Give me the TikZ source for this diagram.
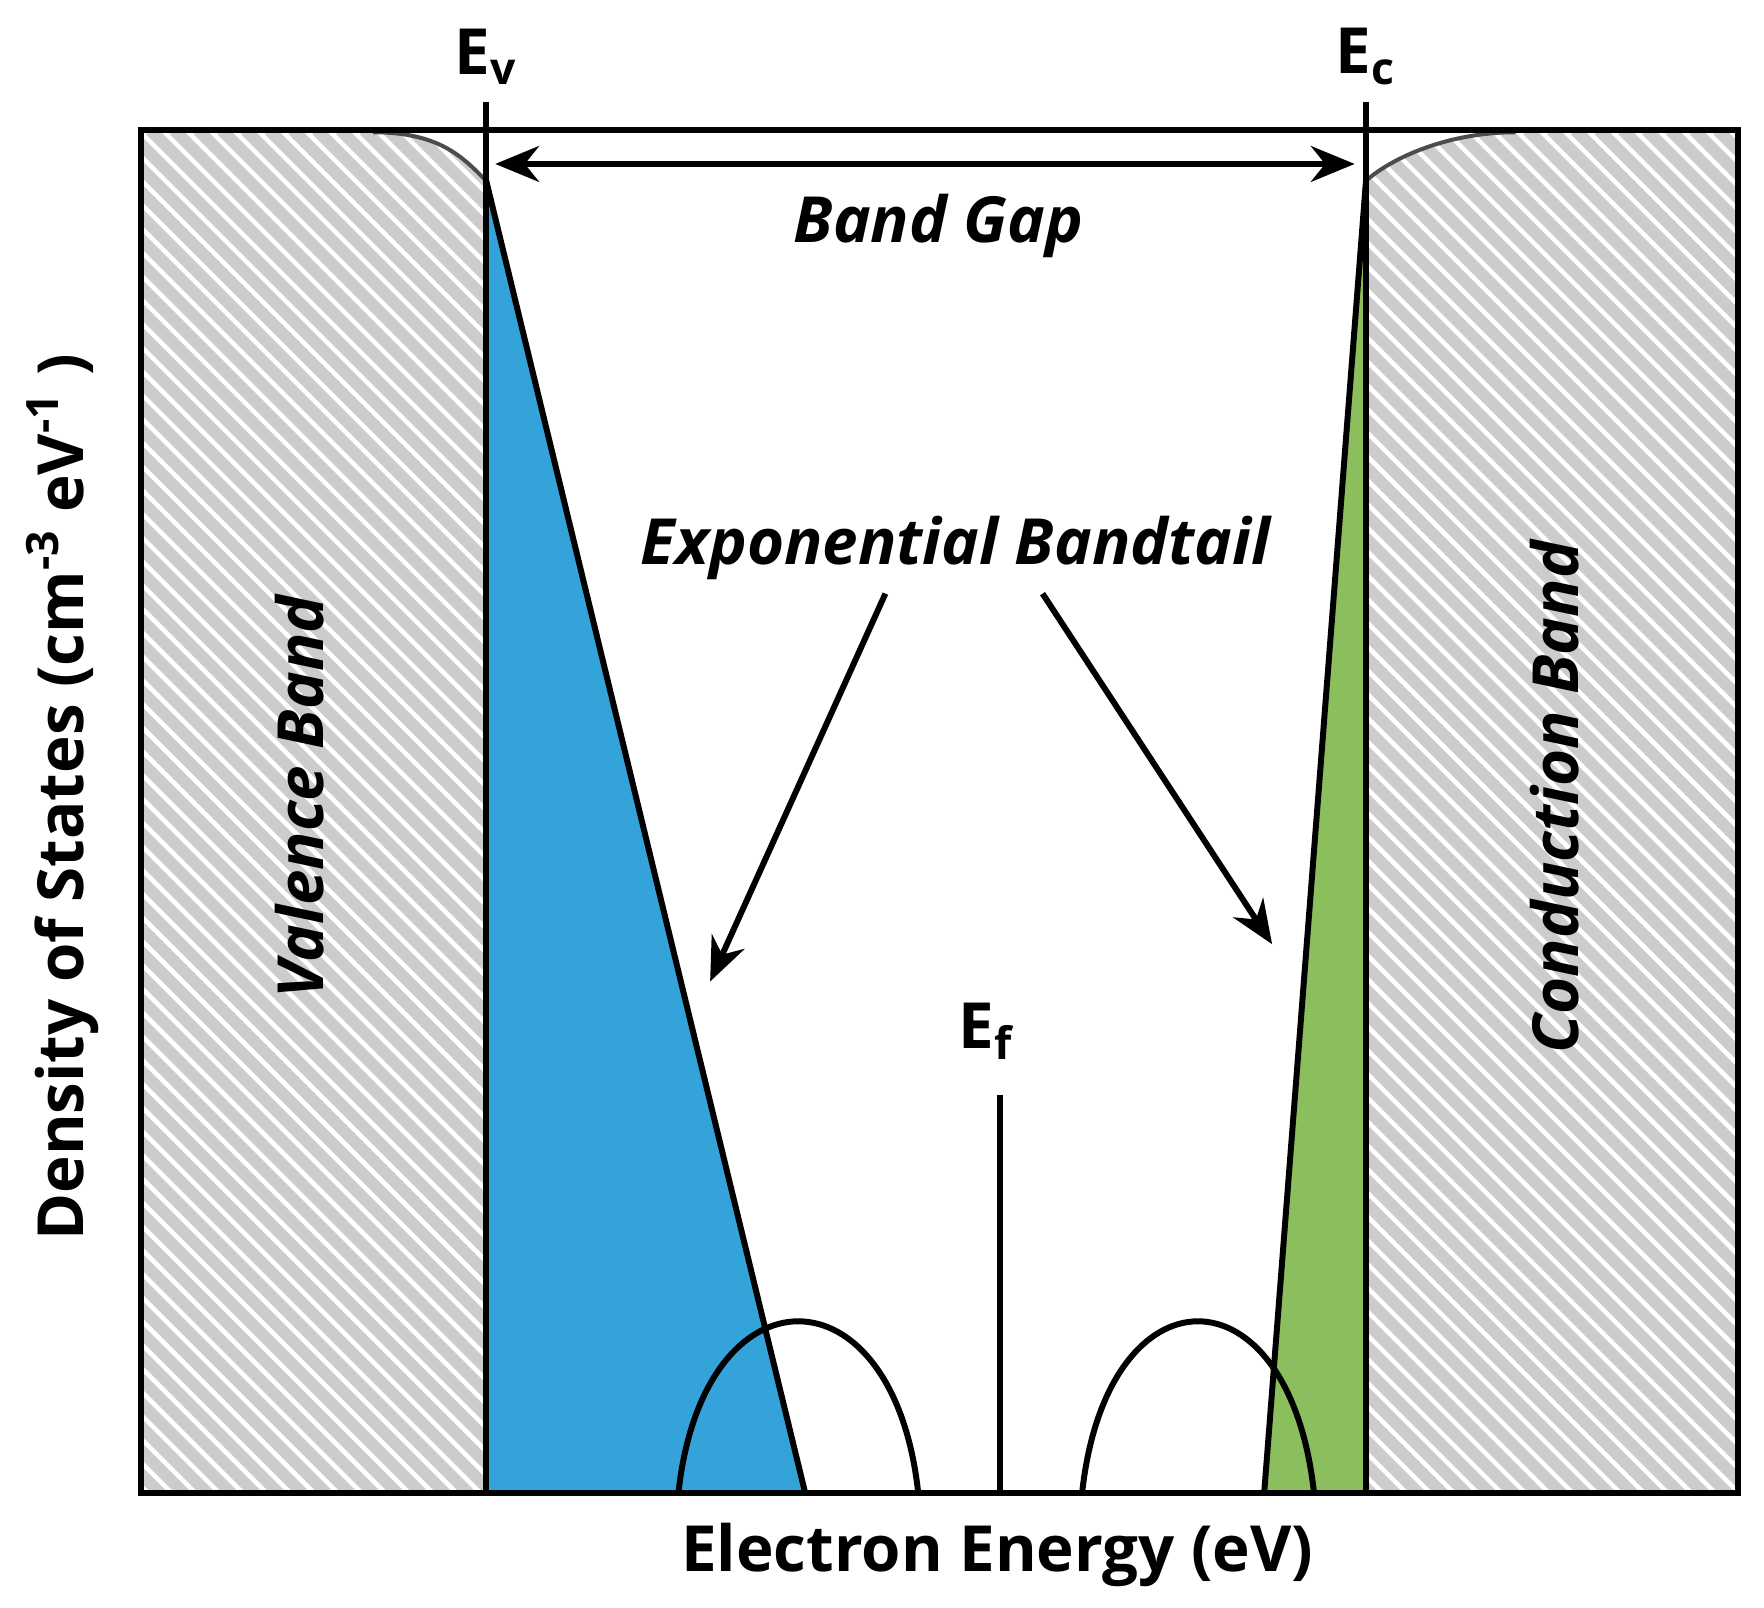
\documentclass[tikz,border=0pt]{standalone}
\usepackage{fontspec}
\setmainfont{Open Sans}
\usetikzlibrary{arrows.meta}
\begin{document}
\begin{tikzpicture}[x=0.01cm,y=-0.01cm,
  lw/.style={line width=1.5pt},
  lbl/.style={font=\fontsize{16}{19}\selectfont\bfseries},
  ilbl/.style={font=\fontsize{16}{19}\selectfont\bfseries\itshape},
  arr/.style={lw,-{Stealth[length=11pt,width=9pt]}}]
\useasboundingbox (0,0) rectangle (1560,1422);
\fill[white] (0,0) rectangle (1560,1422);
% hatch
\begin{scope}
\clip (125,115) rectangle (430,1320) (1208,115) rectangle (1537,1320);
\foreach \k in {-1400,-1379,...,1600}
  \draw[gray!40,line width=3pt] (\k,115) -- (\k+1300,1415);
\end{scope}
\fill[white] (125,115) -- (330,115) .. controls (390,115) and (410,140) .. (430,160) -- (430,115) -- cycle;
\fill[white] (1537,115) -- (1340,115) .. controls (1280,115) and (1230,140) .. (1208,160) -- (1208,115) -- cycle;
\draw[gray!60!black,line width=1pt] (330,117) .. controls (390,117) and (410,140) .. (430,160);
\draw[gray!60!black,line width=1pt] (1340,117) .. controls (1280,117) and (1230,140) .. (1208,160);
% tails
\fill[fill={rgb,255:red,52;green,163;blue,218}] (430,160) -- (712,1320) -- (430,1320) -- cycle;
\fill[fill={rgb,255:red,139;green,190;blue,92}] (1208,160) -- (1118,1320) -- (1208,1320) -- cycle;
\draw[lw] (430,160) -- (712,1320);
\draw[lw] (1208,160) -- (1118,1320);
% arcs
\draw[lw] (600,1320) .. controls (622,1118) and (790,1118) .. (812,1320);
\draw[lw] (957,1320) .. controls (979,1118) and (1140,1118) .. (1162,1320);
% frame
\draw[lw] (125,115) rectangle (1537,1320);
\draw[lw] (430,90) -- (430,1320);
\draw[lw] (1208,90) -- (1208,1320);
\node[lbl] (ev) at (430,50) {E\textsubscript{v}};
\node[lbl] (ec) at (1208,50) {E\textsubscript{c}};
\coordinate (bgl) at (438,145); \coordinate (bgr) at (1198,145);
\draw[lw,{Stealth[length=11pt,width=9pt]}-{Stealth[length=11pt,width=9pt]}] (bgl) -- (bgr);
\node[ilbl] (bg) at (830,200) {Band Gap};
\node[ilbl] (eb) at (845,485) {Exponential Bandtail};
\coordinate (t1) at (628,868); \coordinate (t2) at (1125,835);
\draw[arr] (783,525) -- (t1);
\draw[arr] (922,525) -- (t2);
\node[lbl] (ef) at (872,912) {E\textsubscript{f}};
\coordinate (efb) at (884,1320);
\draw[lw] (884,968) -- (efb);
\node[ilbl,rotate=90] (vb) at (265,705) {Valence Band};
\node[ilbl,rotate=90] (cb) at (1375,705) {Conduction Band};
\node[lbl,rotate=90] (yl) at (55,705) {Density of States (cm\textsuperscript{-3} eV\textsuperscript{-1} )};
\node[lbl] (xl) at (882,1375) {Electron Energy (eV)};
\end{tikzpicture}
\end{document}
